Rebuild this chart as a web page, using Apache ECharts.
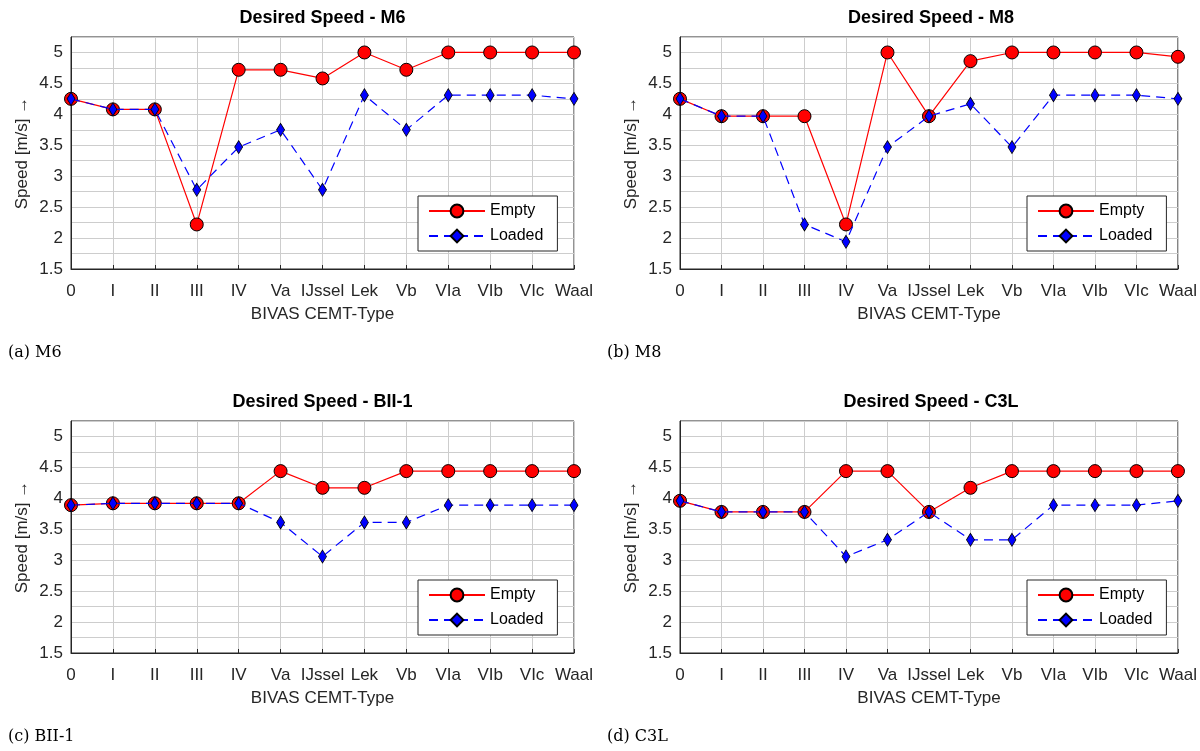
<!DOCTYPE html>
<html>
<head>
<meta charset="utf-8">
<script src="https://cdn.jsdelivr.net/npm/echarts@6/dist/echarts.min.js"></script>
<style>
  html, body { margin: 0; padding: 0; background: #fff; }
  #chart-container { width: 1200px; height: 751px; }
</style>
</head>
<body>
<div id="chart-container"></div>
<script>
var dom = document.getElementById("chart-container");
var myChart = echarts.init(dom, null, { renderer: "canvas" });

// CEMT classes on the x axis
const categories = ["0", "I", "II", "III", "IV", "Va", "IJssel", "Lek", "Vb", "VIa", "VIb", "VIc", "Waal"];

// desired speed [m/s]
const m6Empty = [4.25, 4.08, 4.08, 2.22, 4.72, 4.72, 4.58, 5.0, 4.72, 5.0, 5.0, 5.0, 5.0];
const m6Loaded = [4.25, 4.08, 4.08, 2.78, 3.47, 3.75, 2.78, 4.31, 3.75, 4.31, 4.31, 4.31, 4.25];
const m8Empty = [4.25, 3.97, 3.97, 3.97, 2.22, 5.0, 3.97, 4.86, 5.0, 5.0, 5.0, 5.0, 4.93];
const m8Loaded = [4.25, 3.97, 3.97, 2.22, 1.94, 3.47, 3.97, 4.17, 3.47, 4.31, 4.31, 4.31, 4.25];
const bii1Empty = [3.89, 3.92, 3.92, 3.92, 3.92, 4.44, 4.17, 4.17, 4.44, 4.44, 4.44, 4.44, 4.44];
const bii1Loaded = [3.89, 3.92, 3.92, 3.92, 3.92, 3.61, 3.06, 3.61, 3.61, 3.89, 3.89, 3.89, 3.89];
const c3lEmpty = [3.96, 3.78, 3.78, 3.78, 4.44, 4.44, 3.78, 4.17, 4.44, 4.44, 4.44, 4.44, 4.44];
const c3lLoaded = [3.96, 3.78, 3.78, 3.78, 3.06, 3.33, 3.78, 3.33, 3.33, 3.89, 3.89, 3.89, 3.96];

const panelTitles = ["Desired Speed - M6", "Desired Speed - M8", "Desired Speed - BII-1", "Desired Speed - C3L"];
const captions = ["(a) M6", "(b) M8", "(c) BII-1", "(d) C3L"];
const emptyData = [m6Empty, m8Empty, bii1Empty, c3lEmpty];
const loadedData = [m6Loaded, m8Loaded, bii1Loaded, c3lLoaded];

const FONT = "Liberation Sans";
const INK = "#262626";
const panels = [
  { left: 71, top: 37, width: 503 },
  { left: 680, top: 37, width: 502 },
  { left: 71, top: 421, width: 503 },
  { left: 680, top: 421, width: 502 },
];
const plotH = 232;

const grid = panels.map((p) => ({
  left: p.left,
  top: p.top,
  width: p.width,
  height: plotH,
  show: true,
  borderColor: INK,
  borderWidth: 1,
  backgroundColor: "#fff",
}));

const xAxis = panels.map((p, i) => ({
  gridIndex: i,
  type: "category",
  data: categories,
  boundaryGap: false,
  name: "BIVAS CEMT-Type",
  nameLocation: "middle",
  nameGap: 37,
  nameTextStyle: { fontFamily: FONT, fontSize: 17, color: INK },
  axisLine: { lineStyle: { color: INK } },
  axisTick: { inside: true, length: 4, lineStyle: { color: INK } },
  axisLabel: { fontFamily: FONT, fontSize: 17, color: INK, margin: 14, interval: 0 },
  splitLine: { show: true, lineStyle: { color: "#cdcdcd" } },
}));

const yAxis = panels.map((p, i) => ({
  gridIndex: i,
  type: "value",
  min: 1.5,
  max: 5.25,
  interval: 0.25,
  name: "Speed [m/s] \u2192",
  nameLocation: "middle",
  nameGap: 40,
  nameTextStyle: { fontFamily: FONT, fontSize: 17, color: INK },
  axisLine: { show: true, lineStyle: { color: INK } },
  axisTick: { show: false },
  axisLabel: {
    fontFamily: FONT,
    fontSize: 17,
    color: INK,
    margin: 8,
    formatter: (v) => (Math.abs(v * 2 - Math.round(v * 2)) < 1e-6 && v < 5.2 ? String(v) : ""),
  },
  splitLine: { show: true, lineStyle: { color: "#cdcdcd" } },
}));

const title = [];
panels.forEach((p, i) => {
  title.push({
    text: panelTitles[i],
    left: p.left + p.width / 2,
    textAlign: "center",
    top: p.top - 28,
    padding: 0,
    textStyle: { fontFamily: FONT, fontSize: 18, fontWeight: "bold", color: "#000" },
  });
  title.push({
    text: captions[i],
    left: i % 2 === 0 ? 8 : 607,
    top: p.top + 308,
    padding: 0,
    textStyle: { fontFamily: "DejaVu Serif", fontSize: 16, fontWeight: "normal", color: "#000" },
  });
});

const legend = panels.map((p) => ({
  data: ["Empty", "Loaded"],
  orient: "vertical",
  left: p.left + 347,
  top: p.top + 159,
  itemWidth: 56,
  itemHeight: 16,
  itemGap: 9,
  padding: [7, 14, 7, 10],
  backgroundColor: "#fff",
  borderColor: INK,
  borderWidth: 1,
  borderRadius: 0,
  textStyle: { fontFamily: FONT, fontSize: 16, color: "#000" },
}));

const series = [];
panels.forEach((p, i) => {
  series.push({
    name: "Empty",
    type: "line",
    xAxisIndex: i,
    yAxisIndex: i,
    data: emptyData[i],
    symbol: "circle",
    symbolSize: 13,
    lineStyle: { color: "#ff0000", width: 1.2 },
    itemStyle: { color: "#ff0000", borderColor: "#000", borderWidth: 1 },
    z: 3,
  });
  series.push({
    name: "Loaded",
    type: "line",
    xAxisIndex: i,
    yAxisIndex: i,
    data: loadedData[i],
    symbol: "diamond",
    symbolSize: [8, 13],
    lineStyle: { color: "#0000ff", width: 1.2, type: [9, 6] },
    itemStyle: { color: "#0000ff", borderColor: "#000", borderWidth: 0.8 },
    z: 4,
  });
});

var option = {
  animation: false,
  backgroundColor: "#fff",
  title,
  legend,
  grid,
  xAxis,
  yAxis,
  series,
};

myChart.setOption(option);
window.addEventListener("resize", myChart.resize);
</script>
</body>
</html>
